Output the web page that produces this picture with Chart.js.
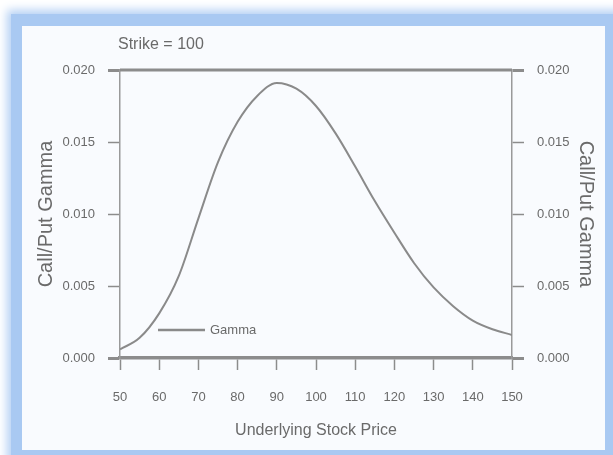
<!DOCTYPE html>
<html>
<head>
<meta charset="utf-8">
<script src="https://cdn.jsdelivr.net/npm/chart.js@4/dist/chart.umd.min.js"></script>
<style>
  body { margin: 0; background: #ffffff; width: 613px; height: 455px; overflow: hidden; position: relative; }
  .frame { position: absolute; left: 11px; top: 14px; width: 620px; height: 460px; background: #a9c9f2; box-shadow: 0 0 9px 4px #b4d0f4; }
  .inner { position: absolute; left: 22px; top: 26px; width: 583px; height: 424px; background: #f9fbfe; }
  canvas { display: block; }
</style>
</head>
<body>
<div class="frame"></div>
<div class="inner"><canvas id="gammaChart" width="583" height="424"></canvas></div>
<script>
// underlying stock price vs gamma, strike = 100
const prices = [50, 55, 60, 65, 70, 75, 80, 85, 90, 95, 100, 105, 110, 115, 120, 125, 130, 135, 140, 145, 150];
const gamma = [0.0006, 0.0014, 0.0031, 0.0057, 0.0097, 0.0136, 0.0164, 0.0182, 0.0191, 0.0187, 0.0175,
               0.0156, 0.0133, 0.0109, 0.0087, 0.0066, 0.0049, 0.0036, 0.0026, 0.0020, 0.0016];
const yTicks = [0, 0.005, 0.010, 0.015, 0.020];
const chartTitle = 'Strike = 100';

const grey = '#6a6a6a';
const lineGrey = '#8c8c8c';

// title text above the plot + thick top frame line + legend inside the plot
const extras = {
  id: 'extras',
  afterDraw(chart) {
    const { ctx, chartArea: { top, bottom, left, right } } = chart;
    ctx.save();
    ctx.strokeStyle = lineGrey;
    ctx.lineWidth = 3;
    ctx.beginPath();
    ctx.moveTo(left, top);
    ctx.lineTo(right, top);
    ctx.stroke();

    ctx.fillStyle = grey;
    ctx.font = '16px "Liberation Sans", Arial, sans-serif';
    ctx.textBaseline = 'middle';
    ctx.fillText(chartTitle, left - 2, top - 25);

    const ds = chart.data.datasets[0];
    const ly = bottom - 28;
    ctx.strokeStyle = ds.borderColor;
    ctx.lineWidth = 2.5;
    ctx.beginPath();
    ctx.moveTo(left + 38, ly);
    ctx.lineTo(left + 85, ly);
    ctx.stroke();
    ctx.font = '13px "Liberation Sans", Arial, sans-serif';
    ctx.fillText(ds.label, left + 90, ly);
    ctx.restore();
  }
};

const edgeTick = (c) => (c.tick && (c.tick.value === 0 || Math.abs(c.tick.value - 0.02) < 1e-9)) ? 3 : 1.5;

const yAxis = (pos, w, titlePad) => ({
  type: 'linear',
  position: pos,
  min: 0,
  max: 0.02,
  afterBuildTicks: s => { s.ticks = yTicks.map(v => ({ value: v })); },
  ticks: {
    color: grey,
    padding: 13,
    font: { size: 13, family: '"Liberation Sans", Arial, sans-serif' },
    callback: v => Number(v).toFixed(3)
  },
  grid: { drawOnChartArea: false, tickLength: 12, tickColor: lineGrey, tickWidth: edgeTick },
  border: { color: '#9a9a9a', width: 1.5 },
  title: {
    display: true,
    text: 'Call/Put Gamma',
    color: grey,
    padding: { top: titlePad, bottom: 0 },
    font: { size: 20, family: '"Liberation Sans", Arial, sans-serif' }
  },
  afterFit: s => { s.width = w; }
});

new Chart(document.getElementById('gammaChart'), {
  type: 'line',
  data: {
    datasets: [{
      label: 'Gamma',
      data: prices.map((p, i) => ({ x: p, y: gamma[i] })),
      borderColor: '#8a8a8a',
      borderWidth: 2,
      pointRadius: 0,
      cubicInterpolationMode: 'monotone',
      yAxisID: 'y'
    }]
  },
  options: {
    responsive: false,
    animation: false,
    layout: { padding: { top: 44, left: 0, right: 0, bottom: 0 } },
    plugins: { legend: { display: false }, tooltip: { enabled: false } },
    scales: {
      x: {
        type: 'linear',
        min: 50,
        max: 150,
        ticks: {
          stepSize: 10,
          color: grey,
          padding: 20,
          maxRotation: 0,
          font: { size: 13, family: '"Liberation Sans", Arial, sans-serif' }
        },
        grid: { drawOnChartArea: false, tickLength: 12, tickColor: lineGrey, tickWidth: 1.5 },
        border: { color: lineGrey, width: 3.5 },
        title: {
          display: true,
          text: 'Underlying Stock Price',
          color: grey,
          padding: { top: 0, bottom: 10 },
          font: { size: 16, family: '"Liberation Sans", Arial, sans-serif' }
        },
        afterFit: s => { s.height = 92; }
      },
      y: yAxis('left', 98, 12),
      y2: yAxis('right', 93, 7)
    }
  },
  plugins: [extras]
});
</script>
</body>
</html>
